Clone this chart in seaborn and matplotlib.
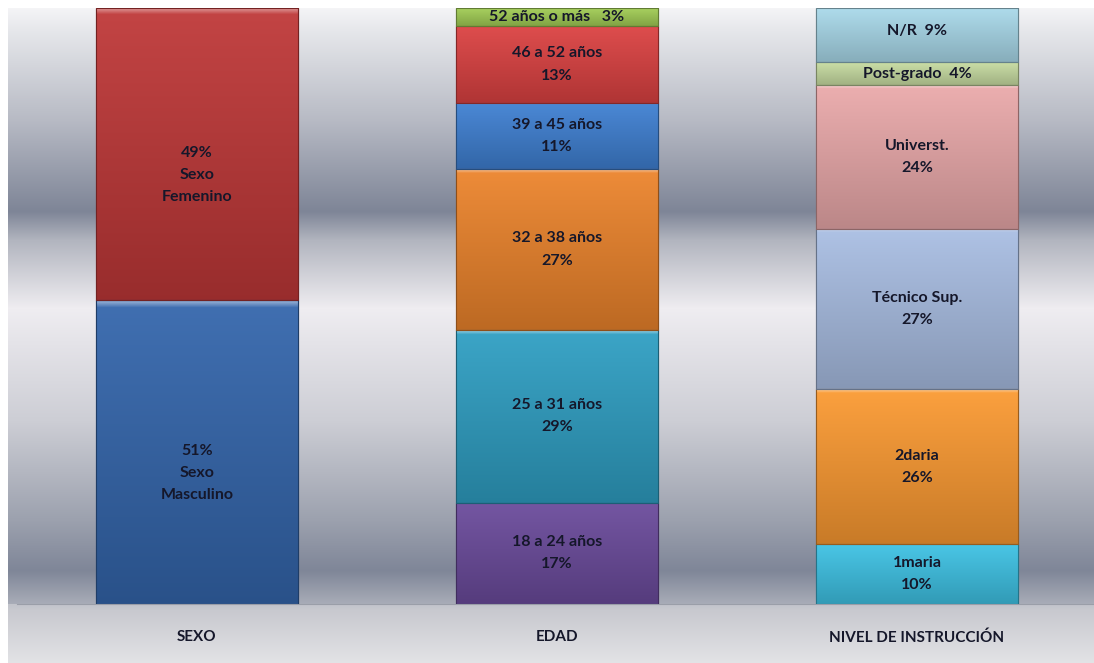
import numpy as np
import pandas as pd
import matplotlib
matplotlib.use("Agg")
import matplotlib.pyplot as plt
import seaborn as sns
from matplotlib.colors import to_rgb

# ---------------- data ----------------
categories = ["SEXO", "EDAD", "NIVEL DE INSTRUCCIÓN"]

sexo_labels = ["51%\nSexo\nMasculino", "49%\nSexo\nFemenino"]
sexo_values = [51, 49]
sexo_colors = ["#3466ac", "#bf3838"]

edad_labels = ["18 a 24 años\n17%", "25 a 31 años\n29%", "32 a 38 años\n27%",
               "39 a 45 años\n11%", "46 a 52 años\n13%", "52 años o más   3%"]
edad_values = [17, 29, 27, 11, 13, 3]
edad_colors = ["#6b4b9c", "#2f9fc3", "#ec842c", "#3f80d2", "#dc4242", "#a2cd55"]

nivel_labels = ["1maria\n10%", "2daria\n26%", "Técnico Sup.\n27%",
                "Universt.\n24%", "Post-grado  4%", "N/R  9%"]
nivel_values = [10, 26, 27, 24, 4, 9]
nivel_colors = ["#3ec2e4", "#fb9a32", "#a9bee3", "#eaa9aa", "#c9dea3", "#a9d9ea"]

series = [
    (categories[0], sexo_labels, sexo_values, sexo_colors),
    (categories[1], edad_labels, edad_values, edad_colors),
    (categories[2], nivel_labels, nivel_values, nivel_colors),
]

# ---------------- figure ----------------
sns.set_theme(style="white")
plt.rcParams["font.family"] = ["Lato", "DejaVu Sans"]
W, H = 1094, 663
fig = plt.figure(figsize=(W / 100, H / 100), dpi=100)
fig.patch.set_facecolor("white")

# background gradient (figure-level)
bg = fig.add_axes([8 / W, 0, 1 - 8 / W, (H - 8) / H], zorder=0)
bg.set_axis_off()
stops_y = [8, 30, 120, 211, 240, 308, 420, 520, 570, 603, 604, 610, 663]
stops_c = ["#f4f4f6", "#e6e7eb", "#b7bac4", "#7e8597", "#b2b5bf", "#efedf1",
           "#cdced5", "#9ca1ae", "#7f8698", "#a8acb7", "#c2c4cb", "#c8c9cf", "#e3e3e6"]
ys = np.arange(8, 663)
cols = np.array([to_rgb(c) for c in stops_c])
grad = np.stack([np.interp(ys, stops_y, cols[:, k]) for k in range(3)], axis=1)
img = np.repeat(grad[:, None, :], 4, axis=1)
bg.imshow(img, aspect="auto", extent=[0, 1, 0, 1], origin="upper")
bg.set_xlim(0, 1)
bg.set_ylim(0, 1)

# main axes
ax = fig.add_axes([17 / W, (H - 604) / H, 1080 / W, 596 / H], zorder=1)
ax.patch.set_alpha(0)

def shade(c, f):
    r = np.array(to_rgb(c))
    if f >= 0:
        return tuple(r + (1 - r) * f)
    return tuple(r * (1 + f))

for cat, labels, values, colors in series:
    bottom = 0
    for lab, val, col in zip(labels, values, colors):
        sns.barplot(x=[cat], y=[val], order=categories, bottom=bottom,
                    color=col, width=0.56, saturation=1, ax=ax,
                    edgecolor=shade(col, -0.35), linewidth=0.8)
        bottom += val

# gradient fill inside every bar segment
for p in list(ax.patches):
    fc = p.get_facecolor()
    x0, y0 = p.get_x(), p.get_y()
    w, h = p.get_width(), p.get_height()
    n = 60
    t = np.linspace(0, 1, n)[:, None]
    top = np.array(shade(fc[:3], 0.06))
    bot = np.array(shade(fc[:3], -0.2))
    g = top * (1 - t) + bot * t
    g[:1] = np.array(shade(fc[:3], 0.4))
    im = ax.imshow(g[:, None, :], aspect="auto", extent=[x0, x0 + w, y0, y0 + h],
                   origin="upper", zorder=2, interpolation="bilinear")
    im.set_clip_path(p)
    p.set_zorder(1)
    ax.add_patch(plt.Rectangle((x0, y0), w, h, fill=False,
                               edgecolor=shade(fc[:3], -0.4), linewidth=0.8, zorder=3))

# labels
txtc = "#15172a"
for i, (cat, labels, values, colors) in enumerate(series):
    bottom = 0
    for lab, val in zip(labels, values):
        yc = bottom + val / 2
        dy = -15 if cat == "SEXO" else 0
        if lab.startswith("N/R"):
            dy = 3
        ax.annotate(lab, (i, yc), xytext=(0, dy), textcoords="offset points",
                    ha="center", va="center", fontsize=11.5, fontweight="bold",
                    color=txtc, linespacing=1.75, zorder=5)
        bottom += val

ax.set_xlim(-0.5, 2.5)
ax.set_ylim(0, 100)
ax.set_ylabel("")
ax.set_xlabel("")
ax.set_yticks([])
for s in ["top", "right", "left"]:
    ax.spines[s].set_visible(False)
ax.spines["bottom"].set_color("#9a9ea8")
ax.spines["bottom"].set_linewidth(0.8)
ax.set_xticks(range(len(categories)))
ax.set_xticklabels(categories, fontsize=11, fontweight="bold", color=txtc)
ax.tick_params(axis="x", length=0, pad=19)
ax.set_xticks([-0.5, 0.5, 1.5], minor=True)
ax.tick_params(axis="x", which="minor", length=5, color="#9a9ea8", width=0.8, direction="out")

fig.savefig("out.png", dpi=100)
